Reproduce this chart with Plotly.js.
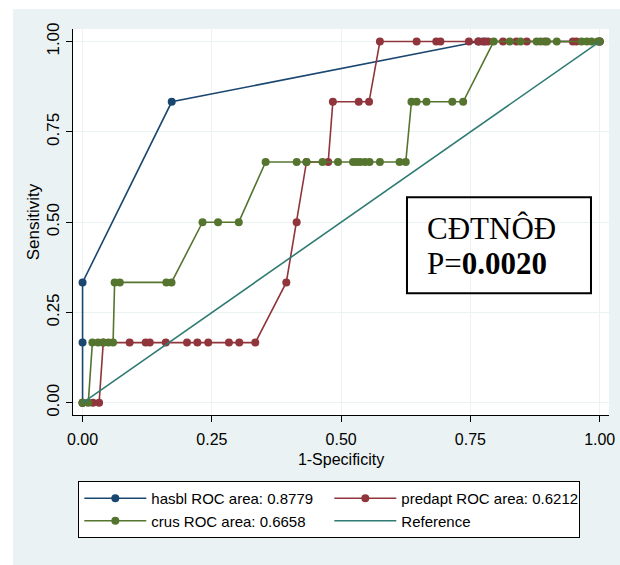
<!DOCTYPE html>
<html>
<head>
<meta charset="utf-8">
<script src="https://cdn.plot.ly/plotly-3.0.1.min.js"></script>
<style>html,body{margin:0;padding:0;background:#fff;}#chart{width:620px;height:565px;}</style>
</head>
<body>
<div id="chart"></div>
<script>
// ---- data ----
const hasblX = [0, 0, 0, 0.1724, 0.766, 0.778, 1];
const hasblY = [0, 0.1667, 0.3333, 0.8333, 1, 1, 1];

const predaptX = [0, 0.020, 0.032, 0.040, 0.091, 0.122, 0.130, 0.161, 0.202, 0.222, 0.243, 0.283, 0.303, 0.334,
                  0.394, 0.414, 0.433, 0.475, 0.484, 0.534, 0.554,
                  0.575, 0.646, 0.684, 0.692, 0.747, 0.765, 0.774, 0.784, 0.813, 0.839, 0.859, 0.894, 0.948, 0.955, 1];
const predaptY = [0, 0, 0, 0.1667, 0.1667, 0.1667, 0.1667, 0.1667, 0.1667, 0.1667, 0.1667, 0.1667, 0.1667, 0.1667,
                  0.3333, 0.5, 0.6667, 0.6667, 0.8333, 0.8333, 0.8333,
                  1, 1, 1, 1, 1, 1, 1, 1, 1, 1, 1, 1, 1, 1, 1];

const crusX = [0, 0.011, 0.019, 0.030, 0.040, 0.050, 0.059, 0.062, 0.072, 0.162, 0.172, 0.232, 0.262, 0.302,
               0.354, 0.414, 0.433, 0.464, 0.494, 0.523, 0.530, 0.537, 0.546, 0.555, 0.575, 0.613, 0.625,
               0.636, 0.646, 0.665, 0.715, 0.736,
               0.795, 0.826, 0.847, 0.878, 0.886, 0.898, 0.917, 0.965, 0.975, 0.984, 0.996, 1];
const crusY = [0, 0, 0.1667, 0.1667, 0.1667, 0.1667, 0.1667, 0.3333, 0.3333, 0.3333, 0.3333, 0.5, 0.5, 0.5,
               0.6667, 0.6667, 0.6667, 0.6667, 0.6667, 0.6667, 0.6667, 0.6667, 0.6667, 0.6667, 0.6667, 0.6667, 0.6667,
               0.8333, 0.8333, 0.8333, 0.8333, 0.8333,
               1, 1, 1, 1, 1, 1, 1, 1, 1, 1, 1, 1];

const refX = [0, 1];
const refY = [0, 1];

const seriesNames = ['hasbl ROC area: 0.8779', 'predapt ROC area: 0.6212', 'crus ROC area: 0.6658', 'Reference'];
const tickVals = [0, 0.25, 0.5, 0.75, 1];
const tickText = ['0.00', '0.25', '0.50', '0.75', '1.00'];
const xTitle = '1-Specificity';
const yTitle = 'Sensitivity';
const boxLine1 = 'CĐTNÔĐ';
const boxLine2 = 'P=<b>0.0020</b>';

// ---- styles ----
const SANS = 'Liberation Sans, Arial, sans-serif';
const SERIF = 'Liberation Serif, Times New Roman, serif';
const colors = ['#1a476f', '#90353b', '#55752f', '#2f7b73'];
const BG = '#eaf2f3';

function rocTrace(x, y, name, color) {
  return {
    type: 'scatter', mode: 'lines+markers', x: x, y: y, name: name,
    line: {color: color, width: 1.6},
    marker: {color: color, size: 8},
    hoverinfo: 'skip'
  };
}

const data = [
  rocTrace(hasblX, hasblY, seriesNames[0], colors[0]),
  rocTrace(predaptX, predaptY, seriesNames[1], colors[1]),
  rocTrace(crusX, crusY, seriesNames[2], colors[2]),
  {type: 'scatter', mode: 'lines', x: refX, y: refY, name: seriesNames[3],
   line: {color: colors[3], width: 1.6}, hoverinfo: 'skip'}
];

function axisBase(range, fs) {
  return {
    range: range, tickmode: 'array', tickvals: tickVals, ticktext: tickText,
    ticks: 'outside', ticklen: 6, tickwidth: 1, tickcolor: '#000',
    showline: true, linecolor: '#000', linewidth: 1,
    showgrid: true, gridcolor: BG, gridwidth: 1, zeroline: false,
    tickfont: {family: SANS, size: fs, color: '#000'},
    fixedrange: true
  };
}

const xaxis = Object.assign(axisBase([-0.0185, 1.018], 16), {
  ticklabelstandoff: 4,
  title: {text: xTitle, font: {family: SANS, size: 16, color: '#000'}, standoff: 6}
});
const yaxis = Object.assign(axisBase([-0.0337, 1.0348], 17), {
  tickangle: -90,
  title: {text: yTitle, font: {family: SANS, size: 17, color: '#000'}, standoff: 0}
});

const layout = {
  width: 620, height: 565,
  margin: {l: 73, r: 11, t: 29, b: 150, pad: 0},
  paper_bgcolor: BG, plot_bgcolor: '#ffffff',
  font: {family: SANS, size: 15, color: '#000'},
  xaxis: xaxis, yaxis: yaxis,
  showlegend: true,
  legend: {
    orientation: 'h', x: 0.0099, xanchor: 'left', y: -0.1710, yanchor: 'top',
    bgcolor: '#ffffff', bordercolor: '#000', borderwidth: 1,
    font: {family: SANS, size: 15, color: '#000'},
    itemwidth: 62, entrywidth: 173, entrywidthmode: 'pixels', traceorder: 'normal'
  },
  shapes: [
    // white outer strips on the left and top of the light graph region
    {type: 'rect', xref: 'paper', yref: 'paper', x0: -0.2, x1: -0.1119, y0: -0.5, y1: 1.2,
     fillcolor: '#ffffff', line: {width: 0}, layer: 'below'},
    {type: 'rect', xref: 'paper', yref: 'paper', x0: -0.2, x1: 1.2, y0: 1.052, y1: 1.2,
     fillcolor: '#ffffff', line: {width: 0}, layer: 'below'},
    // text box frame
    {type: 'rect', xref: 'paper', yref: 'paper', x0: 0.6231, x1: 0.9664, y0: 0.3153, y1: 0.564,
     fillcolor: 'rgba(255,255,255,0)', line: {color: '#000', width: 2}, layer: 'above'}
  ],
  annotations: [
    {xref: 'paper', yref: 'paper', x: 0.6567, y: 0.4819, xanchor: 'left', yanchor: 'middle',
     text: boxLine1, showarrow: false, align: 'left', font: {family: SERIF, size: 31, color: '#000'}},
    {xref: 'paper', yref: 'paper', x: 0.6567, y: 0.3925, xanchor: 'left', yanchor: 'middle',
     text: boxLine2, showarrow: false, align: 'left', font: {family: SERIF, size: 31, color: '#000'}}
  ],
  hovermode: false
};

Plotly.newPlot('chart', data, layout, {displayModeBar: false, staticPlot: true});
</script>
</body>
</html>
